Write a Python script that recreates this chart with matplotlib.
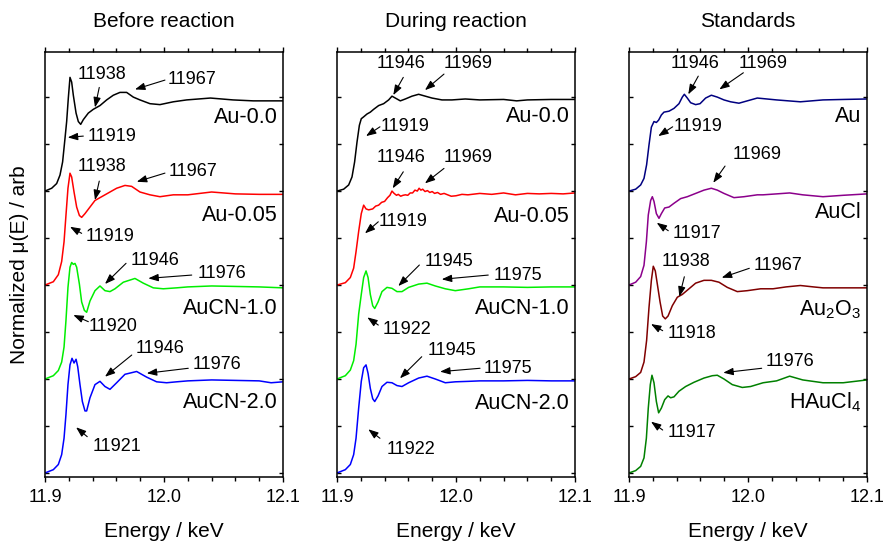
import matplotlib
matplotlib.use("Agg")
import matplotlib.pyplot as plt
from matplotlib.ticker import MultipleLocator, FormatStrFormatter

plt.rcParams['font.family'] = ['Liberation Sans', 'DejaVu Sans']
plt.rcParams['mathtext.fontset'] = 'custom'
plt.rcParams['mathtext.rm'] = 'Liberation Sans'

# ---------------- data (energy keV, normalized mu) ----------------
titles = ["Before reaction", "During reaction", "Standards"]
offsets = [3, 2, 1, 0]

# Panel 1: before reaction
e_b_au00 = [11.9000, 11.9056, 11.9098, 11.9126, 11.9148, 11.9168, 11.9182, 11.9196, 11.9210, 11.9224, 11.9238, 11.9261, 11.9280, 11.9300, 11.9322, 11.9364, 11.9406, 11.9462, 11.9518, 11.9574, 11.9630, 11.9686, 11.9742, 11.9798, 11.9882, 11.9966, 12.0078, 12.019, 12.039, 12.058, 12.075, 12.100]
m_b_au00 = [0.00, 0.03, 0.08, 0.17, 0.31, 0.56, 0.74, 0.99, 1.21, 1.16, 1.02, 0.83, 0.74, 0.71, 0.76, 0.83, 0.87, 0.91, 0.97, 1.02, 1.05, 1.05, 1.00, 0.97, 0.93, 0.92, 0.95, 0.97, 0.99, 0.97, 0.96, 0.96]

e_b_au05 = [11.9000, 11.9070, 11.9112, 11.9140, 11.9160, 11.9176, 11.9193, 11.9210, 11.9224, 11.9244, 11.9266, 11.9289, 11.9308, 11.9336, 11.9378, 11.9420, 11.9476, 11.9532, 11.9602, 11.9672, 11.9728, 11.9798, 11.9882, 11.9966, 12.0078, 12.02, 12.04, 12.06, 12.08, 12.10]
m_b_au05 = [0.00, 0.035, 0.11, 0.25, 0.46, 0.74, 1.03, 1.19, 1.15, 0.99, 0.83, 0.74, 0.72, 0.76, 0.83, 0.90, 0.94, 0.98, 1.03, 1.06, 1.05, 0.99, 0.96, 0.94, 0.96, 0.96, 0.99, 0.97, 0.965, 0.965]

e_b_cn10 = [11.9000, 11.9070, 11.9112, 11.9140, 11.9160, 11.9176, 11.9193, 11.9210, 11.9224, 11.9238, 11.9252, 11.9266, 11.9289, 11.9308, 11.9331, 11.9350, 11.9378, 11.9420, 11.9462, 11.9504, 11.9546, 11.9588, 11.9658, 11.9756, 11.9826, 11.9910, 11.9994, 12.0106, 12.02, 12.04, 12.06, 12.08, 12.10]
m_b_cn10 = [0.00, 0.035, 0.09, 0.18, 0.34, 0.62, 0.975, 1.19, 1.24, 1.22, 1.23, 1.19, 1.01, 0.82, 0.73, 0.71, 0.83, 0.94, 0.99, 0.94, 0.93, 0.96, 1.03, 1.07, 1.02, 0.97, 0.96, 0.97, 0.98, 0.99, 0.985, 0.98, 0.97]

e_b_cn20 = [11.9000, 11.9070, 11.9112, 11.9140, 11.9160, 11.9176, 11.9193, 11.9210, 11.9227, 11.9244, 11.9261, 11.9275, 11.9294, 11.9314, 11.9336, 11.9350, 11.9378, 11.9420, 11.9462, 11.9504, 11.9546, 11.9602, 11.9672, 11.9770, 11.9854, 11.9938, 12.0022, 12.0106, 12.02, 12.04, 12.06, 12.08, 12.09, 12.10]
m_b_cn20 = [0.00, 0.035, 0.09, 0.195, 0.37, 0.62, 0.94, 1.15, 1.22, 1.17, 1.21, 1.13, 0.94, 0.76, 0.66, 0.66, 0.80, 0.94, 0.975, 0.92, 0.89, 0.96, 1.05, 1.08, 1.02, 0.97, 0.96, 0.97, 0.98, 0.99, 0.985, 0.98, 0.96, 0.97]

# Panel 2: during reaction
e_d_au00 = [11.9000, 11.9056, 11.9098, 11.9126, 11.9148, 11.9168, 11.9188, 11.9204, 11.9224, 11.9252, 11.9280, 11.9308, 11.9350, 11.9392, 11.9434, 11.9462, 11.9490, 11.9532, 11.9574, 11.9630, 11.9686, 11.9742, 11.9798, 11.9882, 11.9966, 12.0078, 12.02, 12.04, 12.051, 12.06, 12.08, 12.10]
m_d_au00 = [0.00, 0.02, 0.065, 0.15, 0.31, 0.52, 0.70, 0.77, 0.79, 0.82, 0.84, 0.87, 0.91, 0.93, 0.97, 1.01, 0.99, 0.96, 0.98, 1.01, 1.03, 1.01, 0.99, 0.97, 0.97, 0.98, 0.97, 0.975, 0.96, 0.97, 0.975, 0.975]

e_d_au05 = [11.9000, 11.9070, 11.9112, 11.9140, 11.9160, 11.9182, 11.9204, 11.9224, 11.9244, 11.9266, 11.9300, 11.9325, 11.9350, 11.9375, 11.9400, 11.9425, 11.9445, 11.9462, 11.9480, 11.9500, 11.9515, 11.9535, 11.9555, 11.9575, 11.9595, 11.9615, 11.9635, 11.9655, 11.9675, 11.9690, 11.9705, 11.9720, 11.9740, 11.9760, 11.9780, 11.9800, 11.9820, 11.9845, 11.9870, 11.9900, 11.9930, 11.9960, 12.0000, 12.0050, 12.0100, 12.0200, 12.0300, 12.0400, 12.0500, 12.0600, 12.0700, 12.0800, 12.0900, 12.1000]
m_d_au05 = [0.00, 0.025, 0.08, 0.18, 0.355, 0.57, 0.76, 0.85, 0.81, 0.80, 0.81, 0.84, 0.85, 0.88, 0.89, 0.93, 0.955, 1.0, 0.975, 0.955, 0.965, 0.945, 0.955, 0.96, 0.955, 0.98, 0.98, 1.01, 1.0, 1.03, 1.01, 1.02, 0.995, 1.005, 0.985, 0.995, 0.975, 0.985, 0.965, 0.975, 0.96, 0.945, 0.95, 0.965, 0.96, 0.975, 0.965, 0.98, 0.96, 0.975, 0.97, 0.975, 0.97, 0.98]

e_d_cn10 = [11.9000, 11.9070, 11.9112, 11.9140, 11.9160, 11.9182, 11.9204, 11.9224, 11.9244, 11.9261, 11.9280, 11.9300, 11.9317, 11.9345, 11.9378, 11.9420, 11.9462, 11.9504, 11.9546, 11.9602, 11.9686, 11.9756, 11.9826, 11.9910, 11.9994, 12.0106, 12.02, 12.04, 12.06, 12.08, 12.10]
m_d_cn10 = [0.00, 0.035, 0.095, 0.195, 0.37, 0.69, 0.90, 1.08, 1.15, 1.08, 0.90, 0.78, 0.75, 0.82, 0.93, 0.975, 0.965, 0.93, 0.93, 0.975, 1.01, 1.02, 0.99, 0.96, 0.94, 0.96, 0.98, 0.98, 0.975, 0.98, 0.98]

e_d_cn20 = [11.9000, 11.9070, 11.9112, 11.9140, 11.9160, 11.9182, 11.9204, 11.9224, 11.9244, 11.9261, 11.9280, 11.9300, 11.9317, 11.9345, 11.9378, 11.9420, 11.9462, 11.9504, 11.9546, 11.9602, 11.9686, 11.9756, 11.9826, 11.9910, 11.9994, 12.0106, 12.02, 12.04, 12.06, 12.08, 12.10]
m_d_cn20 = [0.00, 0.035, 0.09, 0.195, 0.37, 0.69, 0.975, 1.12, 1.15, 1.06, 0.90, 0.79, 0.76, 0.82, 0.92, 0.965, 0.96, 0.93, 0.92, 0.96, 1.01, 1.03, 1.00, 0.96, 0.97, 0.975, 0.98, 0.98, 0.985, 0.98, 0.98]

# Panel 3: standards
e_s_au = [11.9000, 11.9056, 11.9098, 11.9126, 11.9148, 11.9168, 11.9188, 11.9210, 11.9230, 11.9249, 11.9272, 11.9294, 11.9336, 11.9378, 11.9420, 11.9448, 11.9465, 11.9490, 11.9518, 11.9560, 11.9597, 11.9644, 11.9692, 11.9742, 11.9798, 11.9854, 11.9924, 11.9994, 12.0078, 12.024, 12.044, 12.063, 12.08, 12.10]
m_s_au = [0.00, 0.02, 0.065, 0.135, 0.28, 0.49, 0.68, 0.74, 0.73, 0.755, 0.81, 0.84, 0.85, 0.88, 0.93, 1.00, 1.03, 0.99, 0.94, 0.92, 0.93, 0.99, 1.02, 1.00, 0.97, 0.95, 0.935, 0.96, 0.99, 0.97, 0.95, 0.97, 0.975, 0.98]

e_s_aucl = [11.9000, 11.9056, 11.9098, 11.9126, 11.9146, 11.9162, 11.9182, 11.9196, 11.9210, 11.9230, 11.9252, 11.9272, 11.9300, 11.9336, 11.9378, 11.9434, 11.9490, 11.9560, 11.9630, 11.9692, 11.9742, 11.9798, 11.9882, 11.9966, 12.0078, 12.0126, 12.024, 12.035, 12.046, 12.063, 12.08, 12.10]
m_s_aucl = [0.00, 0.03, 0.09, 0.21, 0.46, 0.745, 0.90, 0.94, 0.89, 0.76, 0.71, 0.76, 0.82, 0.83, 0.87, 0.92, 0.94, 0.975, 1.01, 1.03, 1.01, 0.975, 0.93, 0.94, 0.96, 0.96, 0.97, 0.98, 0.96, 0.94, 0.955, 0.97]

e_s_au2o3 = [11.9000, 11.9056, 11.9098, 11.9126, 11.9148, 11.9168, 11.9188, 11.9204, 11.9221, 11.9238, 11.9261, 11.9283, 11.9305, 11.9328, 11.9364, 11.9406, 11.9448, 11.9504, 11.9560, 11.9630, 11.9692, 11.9756, 11.9826, 11.9910, 11.9994, 12.0106, 12.021, 12.032, 12.044, 12.055, 12.063, 12.08, 12.10]
m_s_au2o3 = [0.00, 0.025, 0.07, 0.18, 0.41, 0.76, 1.05, 1.20, 1.15, 1.01, 0.82, 0.67, 0.64, 0.67, 0.78, 0.87, 0.90, 0.96, 1.02, 1.05, 1.05, 1.03, 0.975, 0.93, 0.94, 0.96, 0.96, 0.98, 0.995, 0.98, 0.97, 0.97, 0.97]

e_s_haucl4 = [11.9000, 11.9056, 11.9098, 11.9126, 11.9146, 11.9162, 11.9179, 11.9193, 11.9210, 11.9230, 11.9249, 11.9272, 11.9300, 11.9328, 11.9350, 11.9378, 11.9420, 11.9476, 11.9546, 11.9630, 11.9700, 11.9742, 11.9798, 11.9868, 11.9952, 12.0022, 12.0127, 12.024, 12.035, 12.046, 12.063, 12.08, 12.10]
m_s_haucl4 = [0.00, 0.025, 0.07, 0.16, 0.37, 0.69, 0.94, 1.04, 0.96, 0.76, 0.64, 0.69, 0.78, 0.82, 0.80, 0.81, 0.87, 0.92, 0.965, 1.01, 1.035, 1.04, 1.00, 0.94, 0.91, 0.92, 0.96, 0.98, 1.03, 0.99, 0.96, 0.96, 0.99]

labels_before = ["Au-0.0", "Au-0.05", "AuCN-1.0", "AuCN-2.0"]
labels_during = ["Au-0.0", "Au-0.05", "AuCN-1.0", "AuCN-2.0"]
labels_std = ["Au", "AuCl", r"$\mathrm{Au_2O_3}$", r"$\mathrm{HAuCl_4}$"]
colors_samples = ["#000000", "#ff0000", "#00ee00", "#0000ff"]
colors_std = ["#000080", "#8b008b", "#800000", "#008000"]
label_y = [[3.784, 2.745, 1.752, 0.752], [3.790, 2.727, 1.752, 0.741], [3.790, 2.769, 1.734, 0.748]]

# peak annotations: (text, text_xy, arrow tail, arrow tip) in data coords
ann_before = [
    ("11938", (11.9476, 4.245), (11.9456, 4.103), (11.9420, 3.890)),
    ("11967", (12.0233, 4.191), (12.0008, 4.181), (11.9756, 4.082)),
    ("11919", (11.9561, 3.578), (11.9322, 3.585), (11.9191, 3.571)),
    ("11938", (11.9476, 3.259), (11.9456, 3.106), (11.9420, 2.904)),
    ("11967", (12.0246, 3.205), (12.0008, 3.191), (11.9771, 3.099)),
    ("11919", (11.9546, 2.514), (11.9308, 2.550), (11.9210, 2.620)),
    ("11946", (11.9924, 2.266), (11.9681, 2.231), (11.9504, 2.011)),
    ("11976", (12.0485, 2.124), (12.0233, 2.106), (11.9868, 2.071)),
    ("11920", (11.9574, 1.556), (11.9364, 1.610), (11.9238, 1.681)),
    ("11946", (11.9966, 1.327), (11.9729, 1.255), (11.9504, 1.024)),
    ("11976", (12.0443, 1.149), (12.0204, 1.114), (11.9855, 1.061)),
    ("11921", (11.9603, 0.280), (11.9355, 0.386), (11.9261, 0.486)),
]
ann_during = [
    ("11946", (11.9538, 4.359), (11.9557, 4.210), (11.9473, 4.021)),
    ("11969", (12.0103, 4.359), (11.9899, 4.245), (11.9739, 4.074)),
    ("11919", (11.9571, 3.684), (11.9361, 3.684), (11.9244, 3.585)),
    ("11946", (11.9538, 3.359), (11.9557, 3.205), (11.9468, 3.029)),
    ("11969", (12.0103, 3.359), (11.9899, 3.241), (11.9739, 3.082)),
    ("11919", (11.9557, 2.673), (11.9347, 2.673), (11.9235, 2.550)),
    ("11945", (11.9944, 2.248), (11.9692, 2.213), (11.9515, 1.989)),
    ("11975", (12.0524, 2.106), (12.0271, 2.106), (11.9880, 2.061)),
    ("11922", (11.9586, 1.529), (11.9347, 1.574), (11.9255, 1.656)),
    ("11945", (11.9964, 1.301), (11.9712, 1.237), (11.9529, 1.007)),
    ("11975", (12.0440, 1.114), (12.0202, 1.114), (11.9866, 1.078)),
    ("11922", (11.9619, 0.245), (11.9361, 0.369), (11.9263, 0.465)),
]
ann_std = [
    ("11946", (11.9555, 4.359), (11.9582, 4.223), (11.9498, 4.029)),
    ("11969", (12.0129, 4.359), (11.9961, 4.259), (11.9759, 4.082)),
    ("11919", (11.9582, 3.684), (11.9367, 3.684), (11.9246, 3.585)),
    ("11969", (12.0073, 3.394), (11.9807, 3.266), (11.9708, 3.088)),
    ("11917", (11.9569, 2.550), (11.9330, 2.578), (11.9233, 2.663)),
    ("11938", (11.9479, 2.248), (11.9465, 2.088), (11.9423, 1.876)),
    ("11967", (12.0255, 2.213), (12.0011, 2.178), (11.9779, 2.078)),
    ("11918", (11.9527, 1.479), (11.9283, 1.514), (11.9185, 1.585)),
    ("11976", (12.0353, 1.184), (12.0115, 1.114), (11.9792, 1.067)),
    ("11917", (11.9527, 0.429), (11.9283, 0.457), (11.9185, 0.546)),
]

panels = [
    ([(e_b_au00, m_b_au00), (e_b_au05, m_b_au05), (e_b_cn10, m_b_cn10), (e_b_cn20, m_b_cn20)],
     colors_samples, labels_before, ann_before),
    ([(e_d_au00, m_d_au00), (e_d_au05, m_d_au05), (e_d_cn10, m_d_cn10), (e_d_cn20, m_d_cn20)],
     colors_samples, labels_during, ann_during),
    ([(e_s_au, m_s_au), (e_s_aucl, m_s_aucl), (e_s_au2o3, m_s_au2o3), (e_s_haucl4, m_s_haucl4)],
     colors_std, labels_std, ann_std),
]

# ---------------- figure ----------------
W, H = 883, 543
fig = plt.figure(figsize=(W / 100, H / 100), dpi=100)
lefts = [45, 337, 629]
ax_w, ax_top, ax_bot = 238, 52, 477
ylo, yhi = -0.043, 4.48

for i, (series, cols, labs, anns) in enumerate(panels):
    ax = fig.add_axes([lefts[i] / W, (H - ax_bot) / H, ax_w / W, (ax_bot - ax_top) / H])
    for (e, m), c, off in zip(series, cols, offsets):
        ax.plot(e, [v + off for v in m], color=c, lw=1.1, solid_joinstyle='round')
    ax.set_xlim(11.9, 12.1)
    ax.set_ylim(ylo, yhi)
    ax.xaxis.set_major_locator(MultipleLocator(0.1))
    ax.xaxis.set_minor_locator(MultipleLocator(0.02))
    ax.yaxis.set_major_locator(MultipleLocator(0.5))
    ax.xaxis.set_major_formatter(FormatStrFormatter('%.1f'))
    ax.tick_params(axis='x', which='both', direction='out', top=True, bottom=True,
                   labelsize=13, pad=4.5, width=1.0)
    ax.tick_params(axis='x', which='major', length=3.8)
    ax.tick_params(axis='x', which='minor', length=2.6)
    ax.tick_params(axis='y', which='both', direction='in', left=True, right=True,
                   labelleft=False, length=3, width=1.0)
    for sp in ax.spines.values():
        sp.set_linewidth(1.1)
    for lab, yy in zip(labs, label_y[i]):
        ax.text(0.977, (yy - ylo) / (yhi - ylo), lab, transform=ax.transAxes,
                ha='right', va='center', fontsize=15.5)
    for txt, txy, tail, tip in anns:
        ax.annotate('', xy=tip, xytext=tail,
                    arrowprops=dict(arrowstyle='-|>,head_length=0.6,head_width=0.22',
                                    color='k', lw=0.8, mutation_scale=10,
                                    shrinkA=0, shrinkB=0))
        ax.text(txy[0], txy[1], txt, ha='center', va='center', fontsize=13)
    ax.text(0.5, (ax_bot - 21.7) / (ax_bot - ax_top), titles[i], transform=ax.transAxes,
            ha='center', va='center', fontsize=15)
    ax.text(0.5, (ax_bot - 531.7) / (ax_bot - ax_top), "Energy / keV", transform=ax.transAxes,
            ha='center', va='center', fontsize=15)

fig.text(20 / W, 1 - 264.5 / H, "Normalized μ(E) / arb", rotation=90,
         ha='center', va='center', fontsize=15)

fig.savefig("out.png", dpi=100)
